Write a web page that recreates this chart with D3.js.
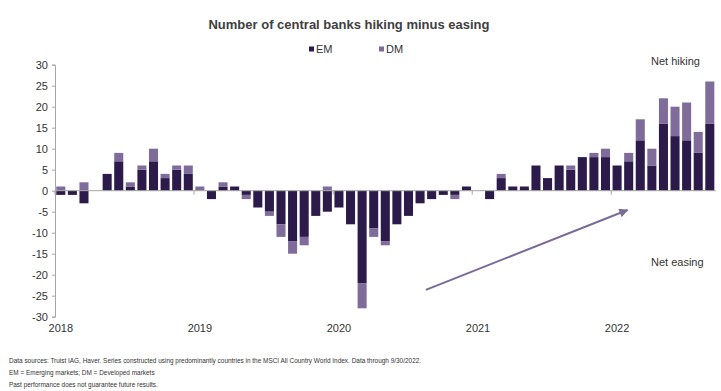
<!DOCTYPE html>
<html>
<head>
<meta charset="utf-8">
<script src="https://cdn.jsdelivr.net/npm/d3@7"></script>
<style>
  html, body { margin: 0; padding: 0; background: #fff; }
  svg { display: block; font-family: "Liberation Sans", Arial, sans-serif; }
</style>
</head>
<body>
<svg id="chart" width="721" height="391"></svg>
<script>
// ---- Data ----
const years = [2018, 2019, 2020, 2021, 2022];
const months = [];
years.forEach(y => { for (let m = 1; m <= 12; m++) { if (y === 2022 && m > 9) break; months.push(y + "-" + String(m).padStart(2, "0")); } });

const emValues = [
  -1, -1, -3, 0, 4, 7, 1, 5, 7, 3, 5, 4,          // 2018
  0, -2, 1, 1, -1, -4, -5, -8, -12, -11, -6, -5,  // 2019
  -4, -8, -22, -9, -12, -8, -6, -3, -2, -1, -1, 1, // 2020
  0, -2, 3, 1, 1, 6, 3, 6, 5, 8, 8, 8,            // 2021
  6, 7, 12, 6, 16, 13, 12, 9, 16                  // 2022
];
const dmValues = [
  1, 0, 2, 0, 0, 2, 1, 1, 3, 1, 1, 2,
  1, 0, 1, 0, -1, 0, -1, -3, -3, -2, 0, 1,
  0, 0, -6, -2, -1, 0, 0, 0, 0, 0, -1, 0,
  0, 0, 1, 0, 0, 0, 0, 0, 1, 0, 1, 2,
  0, 2, 5, 4, 6, 7, 9, 5, 10
];
const seriesNames = ["EM", "DM"];
const yTicks = [30, 25, 20, 15, 10, 5, 0, -5, -10, -15, -20, -25, -30];
const yearLabels = ["2018", "2019", "2020", "2021", "2022"];
const footnotes = [
  "Data sources: Truist IAG, Haver. Series constructed using predominantly countries in the MSCI All Country World Index. Data through 9/30/2022.",
  "EM = Emerging markets; DM = Developed markets",
  "Past performance does not guarantee future results."
];

const colors = { EM: "#2c1a4a", DM: "#7f6c9b" };

// ---- Build table ----
const table = months.map((m, i) => ({ month: m, EM: emValues[i], DM: dmValues[i] }));

const svg = d3.select("#chart");

const x = d3.scaleBand().domain(months).range([55, 715.6]).paddingInner(0.22).paddingOuter(0.11);
const y = d3.scaleLinear().domain([-30, 30]).range([316.7, 64.7]);

// Stacked series (diverging)
const stack = d3.stack().keys(seriesNames).offset(d3.stackOffsetDiverging);
const stacked = stack(table);

svg.append("g").selectAll("g")
  .data(stacked).join("g")
  .attr("fill", d => colors[d.key])
  .selectAll("rect")
  .data(d => d).join("rect")
  .attr("x", d => x(d.data.month))
  .attr("width", x.bandwidth())
  .attr("y", d => y(Math.max(d[0], d[1])))
  .attr("height", d => Math.abs(y(d[0]) - y(d[1])));

// Y axis
const yAxis = d3.axisLeft(y).tickValues(yTicks).tickFormat(d => String(d)).tickSize(3).tickPadding(4);
const gy = svg.append("g").attr("transform", "translate(55,0)").call(yAxis);
gy.select(".domain").attr("stroke", "#a6a6a6");
gy.selectAll(".tick line").attr("stroke", "#a6a6a6");
gy.selectAll(".tick text").attr("fill", "#333").style("font-size", "11px").style("font-family", "'Liberation Sans', Arial, sans-serif");

// Zero line (x axis)
svg.append("line")
  .attr("x1", 55).attr("x2", 715.6)
  .attr("y1", y(0)).attr("y2", y(0))
  .attr("stroke", "#a6a6a6").attr("stroke-width", 1);

// Year boundary ticks
const step = x.step();
yearLabels.forEach((yr, i) => {
  const first = months.indexOf(yr + "-01");
  const bx = x(months[first]) - (step - x.bandwidth()) / 2;
  svg.append("line")
    .attr("x1", bx).attr("x2", bx)
    .attr("y1", y(0)).attr("y2", y(0) + 4)
    .attr("stroke", "#a6a6a6");
  svg.append("text")
    .attr("x", x(months[first]) + x.bandwidth() / 2)
    .attr("y", 332)
    .attr("text-anchor", "middle")
    .attr("fill", "#333")
    .style("font-size", "11px")
    .text(yr);
});

// Title
svg.append("text")
  .attr("x", 349).attr("y", 29)
  .attr("text-anchor", "middle")
  .attr("fill", "#404040")
  .style("font-size", "13px").style("font-weight", "bold")
  .text("Number of central banks hiking minus easing");

// Legend
const legendItems = [{ key: "EM", x: 309 }, { key: "DM", x: 379 }];
legendItems.forEach(it => {
  svg.append("rect").attr("x", it.x).attr("y", 46.5).attr("width", 5).attr("height", 5).attr("fill", colors[it.key]);
  svg.append("text").attr("x", it.x + 7).attr("y", 53).attr("fill", "#333")
    .style("font-size", "11px").text(it.key);
});

// Annotations
svg.append("text").attr("x", 651).attr("y", 65).attr("fill", "#333").style("font-size", "11px").text("Net hiking");
svg.append("text").attr("x", 651).attr("y", 266).attr("fill", "#333").style("font-size", "11px").text("Net easing");

// Arrow (annotation, placed in data space)
const defs = svg.append("defs");
defs.append("marker").attr("id", "arrowhead")
  .attr("viewBox", "0 0 10 10").attr("refX", 9).attr("refY", 5)
  .attr("markerWidth", 5).attr("markerHeight", 4.5)
  .attr("orient", "auto")
  .append("path").attr("d", "M0,0 L10,5 L0,10 Z").attr("fill", "#7a6a98");
const monthPos = i => x(months[0]) + x.bandwidth() / 2 + i * step;
svg.append("line")
  .attr("x1", monthPos(31.5)).attr("y1", y(-23.6))
  .attr("x2", monthPos(48.9)).attr("y2", y(-4.6))
  .attr("stroke", "#7a6a98").attr("stroke-width", 2)
  .attr("marker-end", "url(#arrowhead)");

// Footnotes
const fy = [361, 373, 385];
footnotes.forEach((t, i) => {
  svg.append("text").attr("x", 9).attr("y", fy[i] + 2).attr("fill", "#333")
    .style("font-size", "6.45px").text(t);
});
</script>
</body>
</html>
